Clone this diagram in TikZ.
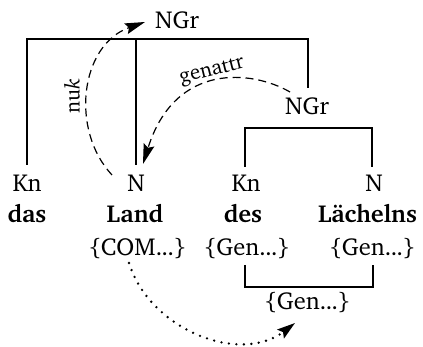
\documentclass[tikz,border=0pt]{standalone}
\usepackage[T1]{fontenc}
\usepackage{charter}
\usetikzlibrary{arrows.meta,calc}
\newcommand\tdots{.\kern-0.04em.\kern-0.04em.}
\begin{document}
\begin{tikzpicture}[x=1pt,y=-1pt,
  lbl/.style={anchor=base,inner sep=0pt,font=\fontsize{24.5}{29}\selectfont},
  wrd/.style={lbl,font=\fontsize{24.5}{29}\selectfont\bfseries},
  tree/.style={line width=1.6pt},
  dsh/.style={line width=1.2pt,dash pattern=on 8pt off 5pt,-{Stealth[length=20pt,width=11pt,inset=3pt]}},
  dts/.style={line width=2.6pt,line cap=round,dash pattern=on 0pt off 7.5pt,-{Stealth[length=18pt,width=11pt,inset=3pt]}},
  rel/.style={inner sep=0pt,font=\fontsize{21}{25}\selectfont}]
\useasboundingbox (0,0) rectangle (423,347);
% labels
\node[lbl] (ngr1) at (177,29) {NGr};
\node[lbl] (ngr2) at (307,115) {NGr};
\node[lbl] (kn1) at (27,192) {Kn};
\node[lbl] (n1) at (136,192) {N};
\node[lbl] (kn2) at (246,192) {Kn};
\node[lbl] (n2) at (374,192) {N};
\node[wrd] (w1) at (27,223) {das};
\node[wrd] (w2) at (135,223) {Land};
\node[wrd] (w3) at (243,223) {des};
\node[wrd] (w4) at (367.5,223) {Lächelns};
\node[lbl] (f1) at (137.5,256) {\{COM\tdots\}};
\node[lbl] (f2) at (247,256) {\{Gen\tdots\}};
\node[lbl] (f3) at (372.5,256) {\{Gen\tdots\}};
\node[lbl] (f4) at (307.5,310) {\{Gen\tdots\}};
% tree coordinates
\coordinate (kn1t) at ([yshift=27pt]kn1.base);
\coordinate (n1t) at ([yshift=27pt]n1.base);
\coordinate (ngr2t) at ([xshift=1pt,yshift=27pt]ngr2.base);
\coordinate (bar1) at ([yshift=76pt]ngr2.base);
\coordinate (kn2t) at ([xshift=-1pt,yshift=25pt]kn2.base);
\coordinate (n2t) at ([xshift=-2pt,yshift=25pt]n2.base);
\coordinate (bar2) at ([yshift=64pt]kn2.base);
\coordinate (f2b) at ([xshift=-2pt,yshift=-9pt]f2.base);
\coordinate (f3b) at ([xshift=0.5pt,yshift=-9pt]f3.base);
\coordinate (bar3) at ([yshift=23pt]f4.base);
\draw[tree] (kn1t) |- (bar1) -| (ngr2t);
\draw[tree] (n1t) -- (n1t |- bar1);
\draw[tree] (kn2t) |- (bar2) -| (n2t);
\draw[tree] (f2b) |- (bar3) -| (f3b);
% dependency arcs
\coordinate (nukA) at (112,175);
\coordinate (nukB) at (145,22);
\draw[dsh] (nukA) .. controls (70,130) and (80,45) .. (nukB);
\node[rel,rotate=90] (nuk) at (72,96) {nu\textit{k}};
\coordinate (genA) at (290,92);
\coordinate (genB) at (143,164);
\draw[dsh] (genA) .. controls (252,70) and (175,62) .. (genB);
\node[rel,rotate=14] (gen) at (212,72) {genattr};
\coordinate (comA) at (129,263);
\coordinate (comB) at (295,323);
\draw[dts] (comA) .. controls (150,330) and (240,365) .. (comB);
\end{tikzpicture}
\end{document}
